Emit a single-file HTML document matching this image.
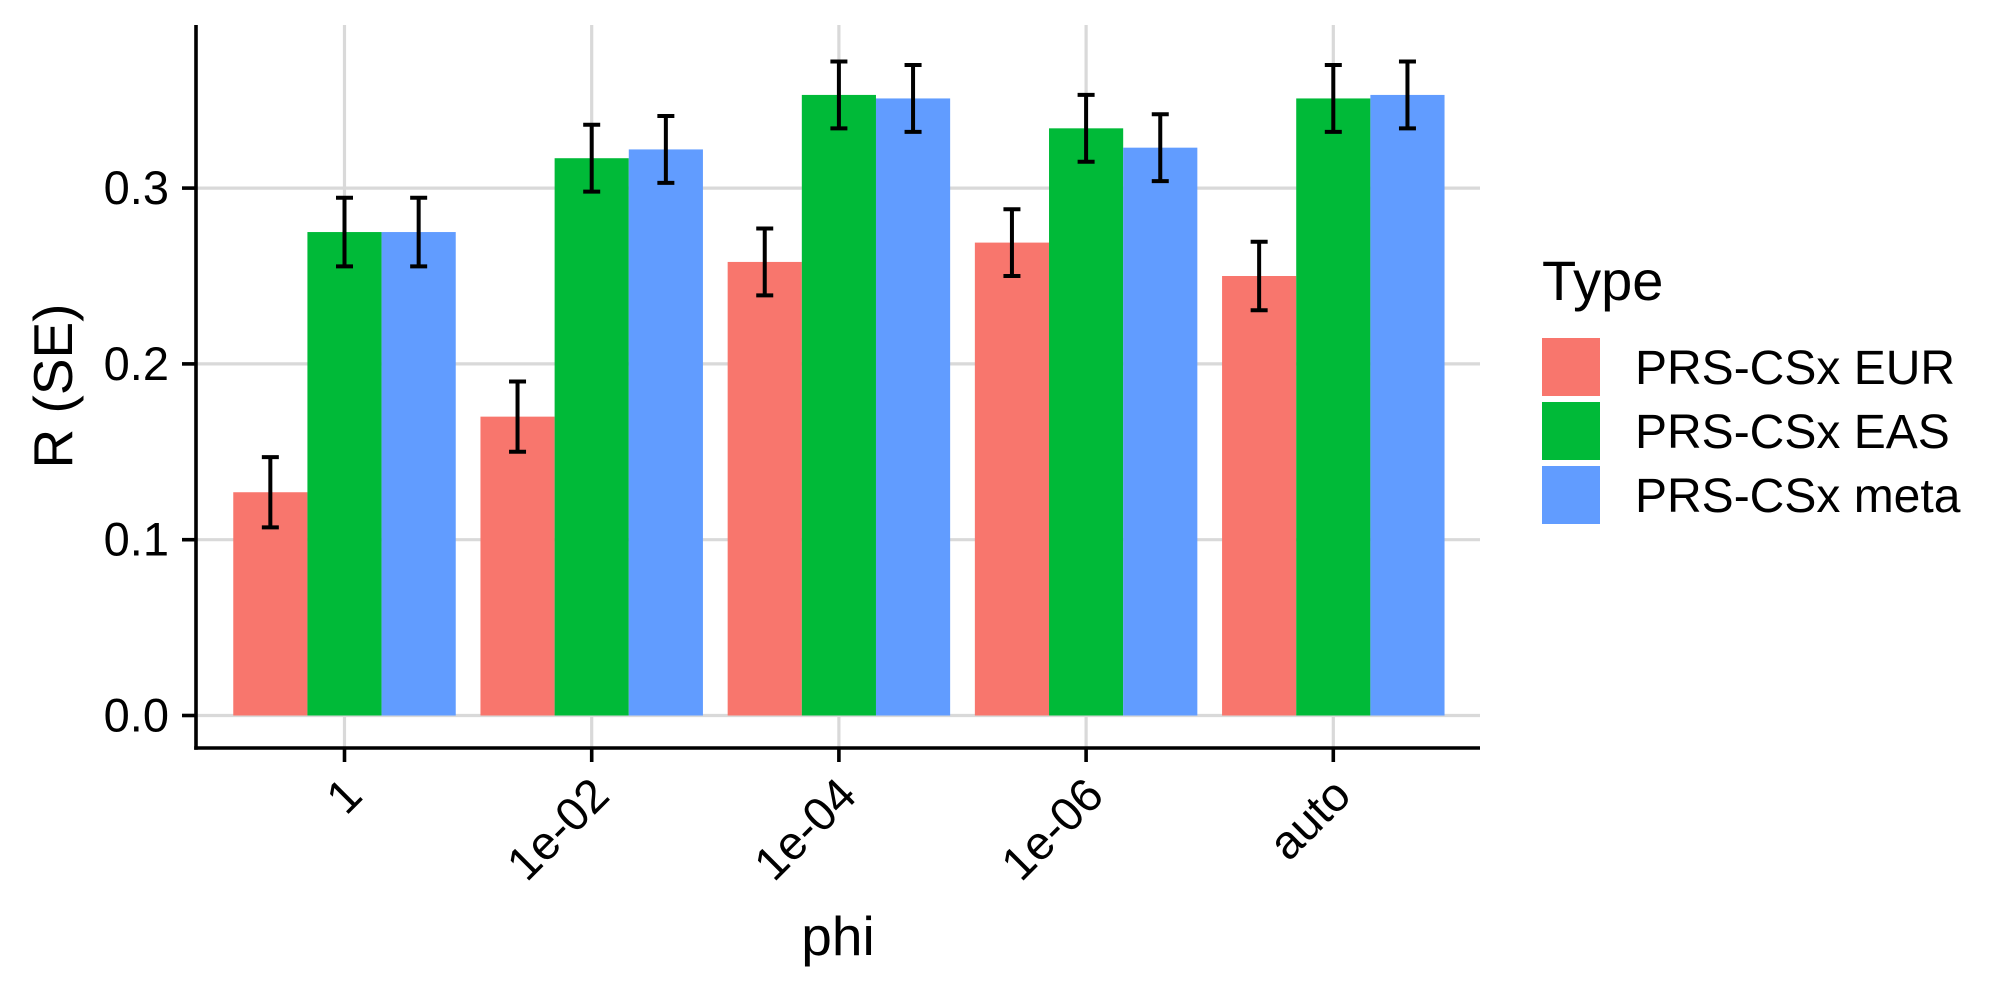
<!DOCTYPE html>
<html><head><meta charset="utf-8"><style>
html,body{margin:0;padding:0;background:#fff;}
svg{display:block;font-family:"Liberation Sans",Arial,sans-serif;}
</style></head><body>
<svg id="chart" width="2000" height="1000" viewBox="0 0 2000 1000" xmlns="http://www.w3.org/2000/svg">
<g id="grid"></g>
<g id="bars"></g>
<g id="errs"></g>
<g id="axes"></g>
<text x="838" y="955" font-size="55" text-anchor="middle">phi</text>
<text transform="translate(72,386) rotate(-90)" font-size="55" text-anchor="middle">R (SE)</text>
<g id="legend">
<text x="1542" y="300" font-size="56">Type</text>
</g>
</svg>
<script>
const categories = ["1","1e-02","1e-04","1e-06","auto"];
const seriesNames = ["PRS-CSx EUR","PRS-CSx EAS","PRS-CSx meta"];
const eurValues = [0.127,0.170,0.258,0.269,0.250];
const easValues = [0.275,0.317,0.353,0.334,0.351];
const metaValues = [0.275,0.322,0.351,0.323,0.353];
const eurSE = [0.020,0.020,0.019,0.019,0.0195];
const easSE = [0.0195,0.019,0.019,0.019,0.019];
const metaSE = [0.0195,0.019,0.019,0.019,0.019];
const yTicks = [0,0.1,0.2,0.3];
const yTickLabels = ["0.0","0.1","0.2","0.3"];

const colors = ["#F8766D","#00BA38","#619CFF"];
const NS = "http://www.w3.org/2000/svg";
const plotL = 196, plotR = 1480, plotT = 25, plotB = 748;
const y0px = 715.5, pxPerUnit = 1758;
const yScale = v => y0px - v * pxPerUnit;
const catStep = 247.2, cat0 = 344.5;
const xScale = i => cat0 + i * catStep;
const barW = catStep * 0.9 / 3;

function mk(tag, attrs, parent){
  const e = document.createElementNS(NS, tag);
  for (const k in attrs) e.setAttribute(k, attrs[k]);
  parent.appendChild(e);
  return e;
}
const grid = document.getElementById('grid');
const bars = document.getElementById('bars');
const errs = document.getElementById('errs');
const axes = document.getElementById('axes');
const legend = document.getElementById('legend');

yTicks.forEach((t, i) => {
  const y = yScale(t);
  const g = mk('line', {x1: plotL, x2: plotR, y1: y, y2: y, stroke: '#D9D9D9', 'stroke-width': 3.2}, grid);
  
  
  const tk = mk('line', {x1: plotL - 14, x2: plotL, y1: y, y2: y, stroke: '#000', 'stroke-width': 3.6}, axes);
  
  
  const lb = mk('text', {x: 169, y: y + 16, 'font-size': 47, 'text-anchor': 'end', fill: '#000'}, axes);
  lb.textContent = yTickLabels[i];
  
  
});
categories.forEach((c, i) => {
  const x = xScale(i);
  const g = mk('line', {x1: x, x2: x, y1: plotT, y2: plotB, stroke: '#D9D9D9', 'stroke-width': 3.2}, grid);
  
  
  const tk = mk('line', {x1: x, x2: x, y1: plotB, y2: plotB + 14, stroke: '#000', 'stroke-width': 3.6}, axes);
  
  
  const lb = mk('text', {transform: `translate(${x - 4},${plotB + 26}) rotate(-45)`, 'font-size': 47, 'text-anchor': 'end', dy: '0.72em', fill: '#000'}, axes);
  lb.textContent = c;
  
  
});
const ax1 = mk('line', {x1: plotL, x2: plotL, y1: plotT, y2: plotB + 1.8, stroke: '#000', 'stroke-width': 3.6}, axes);


const ax2 = mk('line', {x1: plotL - 1.8, x2: plotR, y1: plotB, y2: plotB, stroke: '#000', 'stroke-width': 3.6}, axes);



const allVals = [eurValues, easValues, metaValues];
const allSE = [eurSE, easSE, metaSE];
allVals.forEach((vals, s) => {
  vals.forEach((v, i) => {
    const xc = xScale(i) + (s - 1) * barW;
    const r = mk('rect', {x: xc - barW / 2, y: yScale(v), width: barW, height: yScale(0) - yScale(v), fill: colors[s]}, bars);
    
    
    const se = allSE[s][i];
    const yt = yScale(v + se), yb = yScale(v - se);
    const p = mk('path', {d: `M${xc - 8.5},${yt}H${xc + 8.5}M${xc},${yt}V${yb}M${xc - 8.5},${yb}H${xc + 8.5}`, stroke: '#000', 'stroke-width': 4, fill: 'none'}, errs);
    
    
  });
});
seriesNames.forEach((n, s) => {
  const y = 338 + s * 64;
  const k = mk('rect', {x: 1542, y: y, width: 58, height: 58, fill: colors[s]}, legend);
  
  
  const t = mk('text', {x: 1635, y: y + 46, 'font-size': 48, fill: '#000'}, legend);
  t.textContent = n;
  
  
});
</script>
</body></html>
